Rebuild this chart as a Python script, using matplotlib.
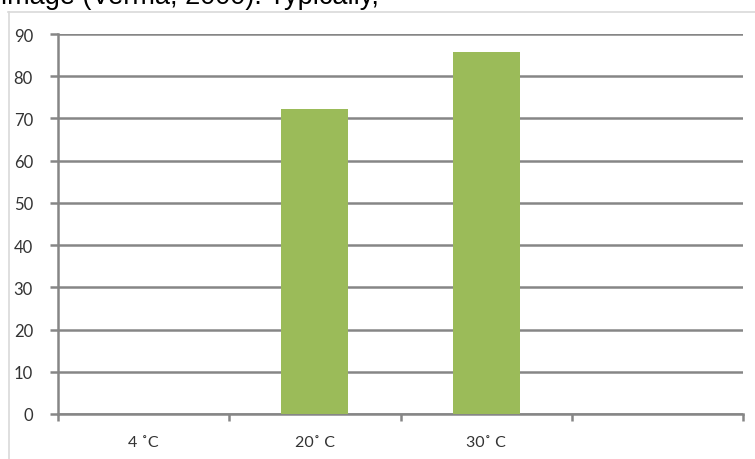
import matplotlib.pyplot as plt
from matplotlib.lines import Line2D

categorias = ["4 \u02daC", "20\u02da C", "30\u02da C", ""]
valores = [0, 72.3, 85.8, 0]
yticks = list(range(0, 100, 10))

plt.rcParams['font.family'] = ['Lato', 'DejaVu Sans']

W, H = 755, 460
fig = plt.figure(figsize=(W / 100, H / 100), dpi=100)
fig.patch.set_facecolor('white')

# recuadro exterior del grafico (gris claro)
fig.add_artist(Line2D([8 / W, 1.0], [1 - 12.5 / H] * 2, color='#d9d9d9', lw=1.2))
fig.add_artist(Line2D([8.5 / W] * 2, [0, 1 - 12.5 / H], color='#d9d9d9', lw=1.2))

# texto del documento, cortado por arriba como en la captura
fig.text(1 / W, 1 - 4 / H, "image (Verma, 2000). Typically,", fontsize=19.5,
         va='baseline', ha='left', color='black', family='Liberation Sans')

ax = fig.add_axes([58 / W, 1 - 415 / H, (743 - 58) / W, (415 - 35) / H])
gris = '#868686'

x = list(range(len(categorias)))
ax.bar(x, valores, width=0.39, color='#9bbb59', zorder=3)

ax.set_xlim(-0.5, len(categorias) - 0.5)
ax.set_ylim(0, 90)
ax.set_yticks(yticks)
ax.set_yticklabels([str(v) for v in yticks], fontsize=12, color='#333333')
ax.yaxis.grid(True, color=gris, lw=1.8, zorder=1)
ax.set_axisbelow(True)

# etiquetas de categoria sin marca, marcas en los bordes
ax.set_xticks([i - 0.5 for i in range(len(categorias) + 1)])
ax.set_xticklabels([])
ax.set_xticks(x, minor=True)
ax.set_xticklabels(categorias, minor=True, fontsize=11.5, color='#333333')
ax.tick_params(axis='x', which='minor', length=0, pad=15)
ax.tick_params(axis='x', which='major', length=5, width=1.8, color=gris)
ax.tick_params(axis='y', length=6, width=1.8, color=gris, pad=12)

for s in ['top', 'right']:
    ax.spines[s].set_visible(False)
for s in ['left', 'bottom']:
    ax.spines[s].set_color(gris)
    ax.spines[s].set_linewidth(1.8)

fig.savefig("out.png", dpi=100)
